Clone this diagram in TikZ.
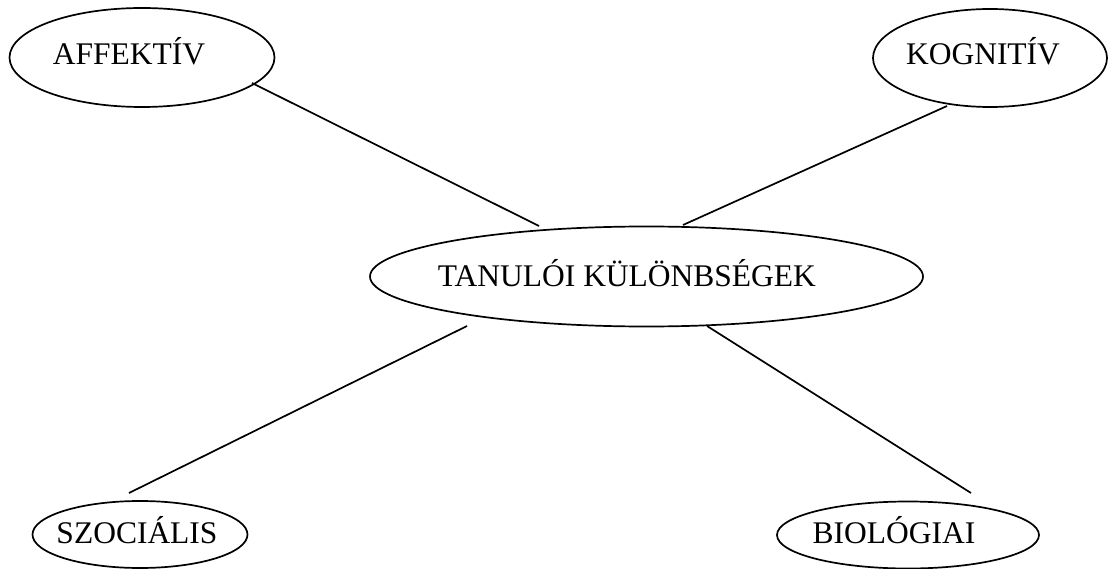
\documentclass[tikz,border=0pt]{standalone}
\usepackage{fontspec}
\setmainfont{Liberation Serif}
\usetikzlibrary{shapes.geometric}
\begin{document}
\begin{tikzpicture}[x=1pt,y=-1pt,
  oval/.style={draw,ellipse,line width=1.7pt,inner sep=0pt},
  lbl/.style={anchor=base,inner sep=0pt,font=\fontsize{31.5}{36}\selectfont},
  link/.style={line width=1.7pt}]
\useasboundingbox (0,0) rectangle (1110,569);
% ellipses
\node[oval,minimum width=265pt,minimum height=99pt] (aff) at (142,57.5) {};
\node[oval,minimum width=234pt,minimum height=98pt] (kog) at (990,58) {};
\node[oval,minimum width=553pt,minimum height=100pt] (tan) at (646.5,276.5) {};
\node[oval,minimum width=215pt,minimum height=67pt] (szo) at (140,534.5) {};
\node[oval,minimum width=262pt,minimum height=67pt] (bio) at (908,535) {};
% labels
\node[lbl] (taff) at (129,65) {AFFEKTÍV};
\node[lbl] (tkog) at (983,65) {KOGNITÍV};
\node[lbl] (ttan) at (627,286) {TANULÓI KÜLÖNBSÉGEK};
\node[lbl] (tszo) at (137,543) {SZOCIÁLIS};
\node[lbl] (tbio) at (894,543) {BIOLÓGIAI};
% connector ends
\coordinate (a1) at (252,83);
\coordinate (a2) at (539,226);
\coordinate (k1) at (947,106);
\coordinate (k2) at (683,225);
\coordinate (s1) at (467,326);
\coordinate (s2) at (129,493);
\coordinate (b1) at (707,326);
\coordinate (b2) at (971,493);
\draw[link] (a1) -- (a2);
\draw[link] (k1) -- (k2);
\draw[link] (s1) -- (s2);
\draw[link] (b1) -- (b2);
\end{tikzpicture}
\end{document}
